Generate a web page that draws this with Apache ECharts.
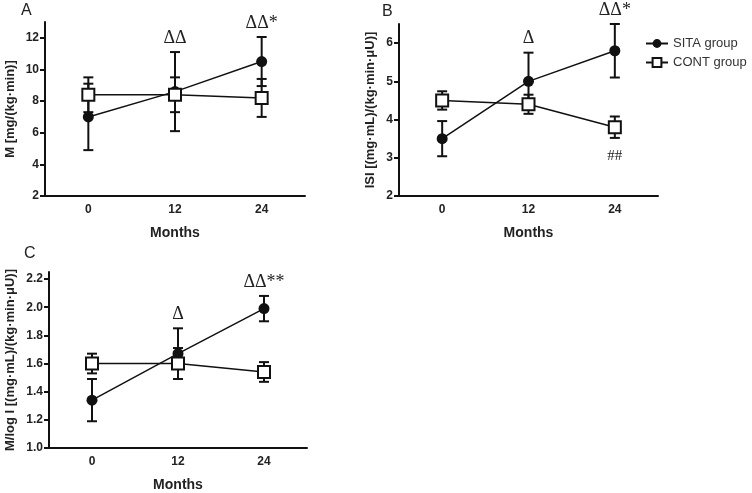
<!DOCTYPE html>
<html>
<head>
<meta charset="utf-8">
<script src="https://cdn.jsdelivr.net/npm/echarts@6/dist/echarts.min.js"></script>
<style>
html,body{margin:0;padding:0;background:#fff;}
#main{width:752px;height:493px;}
</style>
</head>
<body>
<div id="main"></div>
<script>
var months = ['0', '12', '24'];

// panel A: M
var aSita = [7.0, 8.6, 10.5];
var aSitaSd = [2.1, 2.5, 1.55];
var aCont = [8.4, 8.4, 8.2];
var aContSd = [1.1, 1.1, 1.2];
var aSig = ['', 'ΔΔ', 'ΔΔ*'];

// panel B: ISI
var bSita = [3.5, 5.0, 5.8];
var bSitaSd = [0.46, 0.75, 0.7];
var bCont = [4.5, 4.4, 3.8];
var bContSd = [0.24, 0.25, 0.28];
var bSig = ['', 'Δ', 'ΔΔ*'];
var bContSig = ['', '', '##'];

// panel C: M/log I
var cSita = [1.34, 1.67, 1.99];
var cSitaSd = [0.15, 0.18, 0.09];
var cCont = [1.60, 1.60, 1.54];
var cContSd = [0.07, 0.11, 0.07];
var cSig = ['', 'Δ', 'ΔΔ**'];

var aTicks = [2, 4, 6, 8, 10, 12];
var bTicks = [2, 3, 4, 5, 6];
var cTicks = [1.0, 1.2, 1.4, 1.6, 1.8, 2.0, 2.2];

var chart = echarts.init(document.getElementById('main'));
var ink = '#111';
var sans = 'Liberation Sans';

function errData(mean, sd) {
    return mean.map(function (m, i) { return [i, m - sd[i], m + sd[i]]; });
}

function errSeries(idx, mean, sd, above, below) {
    return {
        type: 'custom',
        xAxisIndex: idx,
        yAxisIndex: idx,
        z: 1,
        clip: false,
        silent: true,
        data: errData(mean, sd),
        renderItem: function (params, api) {
            var i = params.dataIndex;
            var lo = api.coord([api.value(0), api.value(1)]);
            var hi = api.coord([api.value(0), api.value(2)]);
            var x = hi[0], w = 5;
            var st = {stroke: ink, lineWidth: 2};
            var kids = [
                {type: 'line', shape: {x1: x, y1: hi[1], x2: x, y2: lo[1]}, style: st},
                {type: 'line', shape: {x1: x - w, y1: hi[1], x2: x + w, y2: hi[1]}, style: st},
                {type: 'line', shape: {x1: x - w, y1: lo[1], x2: x + w, y2: lo[1]}, style: st}
            ];
            if (above && above[i]) {
                kids.push({type: 'text', style: {text: above[i], x: x, y: hi[1] - 14,
                    align: 'center', verticalAlign: 'middle', fill: '#222',
                    font: '18px "Liberation Serif"'}});
            }
            if (below && below[i]) {
                kids.push({type: 'text', style: {text: below[i], x: x, y: lo[1] + 18,
                    align: 'center', verticalAlign: 'middle', fill: '#222',
                    font: '15px "Liberation Serif"'}});
            }
            return {type: 'group', children: kids};
        }
    };
}

function lineSeries(idx, name, data) {
    var isSita = name === 'SITA group';
    return {
        name: name,
        type: 'line',
        xAxisIndex: idx,
        yAxisIndex: idx,
        z: 3,
        data: data,
        symbol: isSita ? 'circle' : 'rect',
        symbolSize: isSita ? 11 : 12,
        lineStyle: {color: ink, width: 1.5},
        itemStyle: isSita ? {color: ink} : {color: '#fff', borderColor: ink, borderWidth: 2},
        emphasis: {disabled: true}
    };
}

function xAx(idx) {
    return {
        type: 'category',
        gridIndex: idx,
        data: months,
        name: 'Months',
        nameLocation: 'middle',
        nameGap: 30,
        nameTextStyle: {fontFamily: sans, fontWeight: 'bold', fontSize: 14, color: '#222'},
        axisLine: {lineStyle: {color: ink, width: 2}},
        axisTick: {alignWithLabel: true, length: 4, lineStyle: {color: ink, width: 2}},
        axisLabel: {fontFamily: sans, fontWeight: 'bold', fontSize: 12, color: '#222', margin: 8},
        splitLine: {show: false}
    };
}

function yAx(idx, min, max, ticks, name, gap, fmt) {
    return {
        type: 'value',
        gridIndex: idx,
        min: min,
        max: max,
        interval: ticks[1] - ticks[0],
        name: name,
        nameLocation: 'middle',
        nameGap: gap,
        nameTextStyle: {fontFamily: sans, fontWeight: 'bold', fontSize: 13, color: '#222'},
        axisLine: {show: true, lineStyle: {color: ink, width: 2}},
        axisTick: {show: true, length: 5, customValues: ticks, lineStyle: {color: ink, width: 2}},
        axisLabel: {fontFamily: sans, fontWeight: 'bold', fontSize: 12, color: '#222', margin: 6,
            customValues: ticks, formatter: fmt},
        splitLine: {show: false}
    };
}

var option = {
    backgroundColor: '#fff',
    animation: false,
    textStyle: {fontFamily: sans},
    grid: [
        {left: 45, top: 22, width: 260, height: 174},
        {left: 399, top: 24, width: 259, height: 172},
        {left: 49, top: 272, width: 258, height: 179}
    ],
    xAxis: [xAx(0), xAx(1), xAx(2)],
    yAxis: [
        yAx(0, 2, 13, aTicks, 'M [mg/(kg·min)]', 28, function (v) { return String(v); }),
        yAx(1, 2, 6.5, bTicks, 'ISI [(mg·mL)/(kg·min·μU)]', 22, function (v) { return String(v); }),
        yAx(2, 1.0, 2.25, cTicks, 'M/log I [(mg·mL)/(kg·min·μU)]', 32, function (v) { return v.toFixed(1); })
    ],
    legend: {
        orient: 'vertical',
        left: 640,
        top: 32,
        itemWidth: 22,
        itemHeight: 11,
        itemGap: 6,
        data: ['SITA group', 'CONT group'],
        textStyle: {fontFamily: sans, fontSize: 13, color: '#333'}
    },
    graphic: [
        {type: 'text', left: 21, top: 3, style: {text: 'A', font: '16px "Liberation Sans"', fill: '#222'}},
        {type: 'text', left: 382, top: 4, style: {text: 'B', font: '16px "Liberation Sans"', fill: '#222'}},
        {type: 'text', left: 24, top: 246, style: {text: 'C', font: '16px "Liberation Sans"', fill: '#222'}}
    ],
    series: [
        errSeries(0, aSita, aSitaSd, aSig, null),
        errSeries(0, aCont, aContSd, null, null),
        lineSeries(0, 'SITA group', aSita),
        lineSeries(0, 'CONT group', aCont),
        errSeries(1, bSita, bSitaSd, bSig, null),
        errSeries(1, bCont, bContSd, null, bContSig),
        lineSeries(1, 'SITA group', bSita),
        lineSeries(1, 'CONT group', bCont),
        errSeries(2, cSita, cSitaSd, cSig, null),
        errSeries(2, cCont, cContSd, null, null),
        lineSeries(2, 'SITA group', cSita),
        lineSeries(2, 'CONT group', cCont)
    ]
};

chart.setOption(option);
</script>
</body>
</html>
